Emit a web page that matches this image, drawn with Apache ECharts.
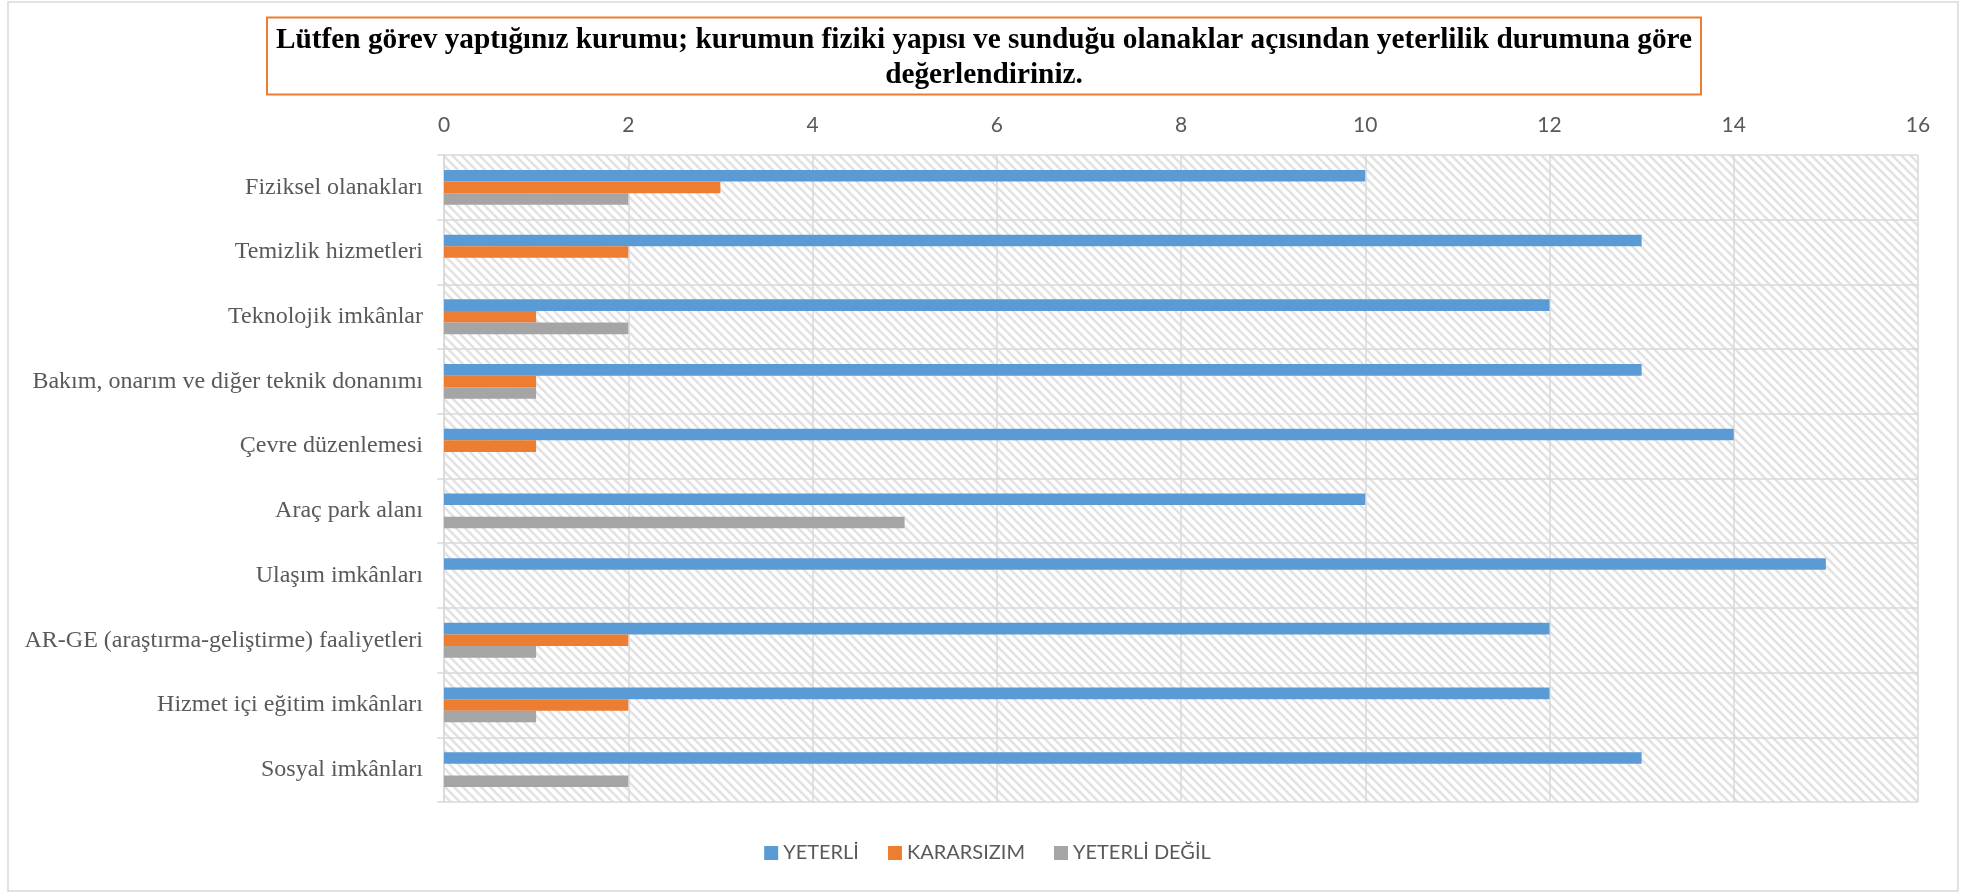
<!DOCTYPE html>
<html>
<head>
<meta charset="utf-8">
<script src="https://cdn.jsdelivr.net/npm/echarts@6/dist/echarts.min.js"></script>
<style>
html,body{margin:0;padding:0;background:#fff;}
#chart{width:1975px;height:892px;}
</style>
</head>
<body>
<div id="chart"></div>
<script>
const titleText = 'Lütfen görev yaptığınız kurumu; kurumun fiziki yapısı ve sunduğu olanaklar açısından yeterlilik durumuna göre\ndeğerlendiriniz.';
const categories = [
  'Fiziksel olanakları',
  'Temizlik hizmetleri',
  'Teknolojik imkânlar',
  'Bakım, onarım ve diğer teknik donanımı',
  'Çevre düzenlemesi',
  'Araç park alanı',
  'Ulaşım imkânları',
  'AR-GE (araştırma-geliştirme) faaliyetleri',
  'Hizmet içi eğitim imkânları',
  'Sosyal imkânları'
];
const seriesNames = ['YETERLİ', 'KARARSIZIM', 'YETERLİ DEĞİL'];
const yeterli      = [10, 13, 12, 13, 14, 10, 15, 12, 12, 13];
const kararsizim   = [3, 2, 1, 1, 1, 0, 0, 2, 2, 0];
const yeterliDegil = [2, 0, 2, 1, 0, 5, 0, 1, 1, 2];
const xTicks = [0, 2, 4, 6, 8, 10, 12, 14, 16];

// diagonal hatch pattern for the plot area
const P = 9;
const tile = document.createElement('canvas');
tile.width = P; tile.height = P;
const c = tile.getContext('2d');
c.fillStyle = '#ffffff';
c.fillRect(0, 0, P, P);
c.strokeStyle = '#e2e2e2';
c.lineWidth = 2.6;
for (let x0 = -P; x0 <= P; x0 += P) {
  c.beginPath();
  c.moveTo(x0 - 1, -1);
  c.lineTo(x0 + P + 1, P + 1);
  c.stroke();
}

const chart = echarts.init(document.getElementById('chart'), null, {renderer: 'canvas'});
const gridColor = '#d9d9d9';
const option = {
  backgroundColor: '#ffffff',
  animation: false,
  title: {
    text: titleText,
    left: 975,
    top: 17.5,
    textAlign: 'center',
    padding: [5, 9, 2, 9],
    borderColor: '#ED7D31',
    borderWidth: 2,
    textStyle: {
      fontFamily: 'Liberation Serif',
      fontWeight: 'bold',
      fontSize: 29.3,
      lineHeight: 35,
      color: '#000000'
    }
  },
  graphic: [{
    type: 'rect',
    shape: {x: 8, y: 2, width: 1950, height: 889},
    style: {fill: 'none', stroke: '#d9d9d9', lineWidth: 1.5},
    silent: true,
    z: -1
  }],
  legend: {
    data: seriesNames,
    left: 'center',
    top: 838,
    icon: 'rect',
    itemWidth: 14,
    itemHeight: 14,
    itemGap: 29,
    textStyle: {fontFamily: 'Lato', fontSize: 20, color: '#595959'}
  },
  grid: {
    left: 444,
    right: 57,
    top: 155,
    bottom: 90,
    show: true,
    borderWidth: 0,
    backgroundColor: {image: tile, repeat: 'repeat'}
  },
  xAxis: {
    type: 'value',
    position: 'top',
    min: xTicks[0],
    max: xTicks[xTicks.length - 1],
    interval: xTicks[1] - xTicks[0],
    axisLine: {show: false},
    axisTick: {show: false},
    splitLine: {show: true, lineStyle: {color: gridColor, width: 1.5}},
    axisLabel: {fontFamily: 'Lato', fontSize: 21, color: '#595959', margin: 19}
  },
  yAxis: {
    type: 'category',
    inverse: true,
    data: categories,
    axisLine: {show: true, lineStyle: {color: gridColor, width: 1.5}},
    axisTick: {show: true, length: 7, lineStyle: {color: gridColor, width: 1.5}},
    splitLine: {show: true, interval: 0, lineStyle: {color: gridColor, width: 1.5}},
    axisLabel: {fontFamily: 'Liberation Serif', fontSize: 24, color: '#595959', margin: 21, interval: 0}
  },
  series: [
    {name: seriesNames[0], type: 'bar', data: yeterli, barWidth: 11.6, barGap: '0%', itemStyle: {color: '#5B9BD5'}},
    {name: seriesNames[1], type: 'bar', data: kararsizim, barWidth: 11.6, barGap: '0%', itemStyle: {color: '#ED7D31'}},
    {name: seriesNames[2], type: 'bar', data: yeterliDegil, barWidth: 11.6, barGap: '0%', itemStyle: {color: '#A5A5A5'}}
  ]
};
chart.setOption(option);
</script>
</body>
</html>
